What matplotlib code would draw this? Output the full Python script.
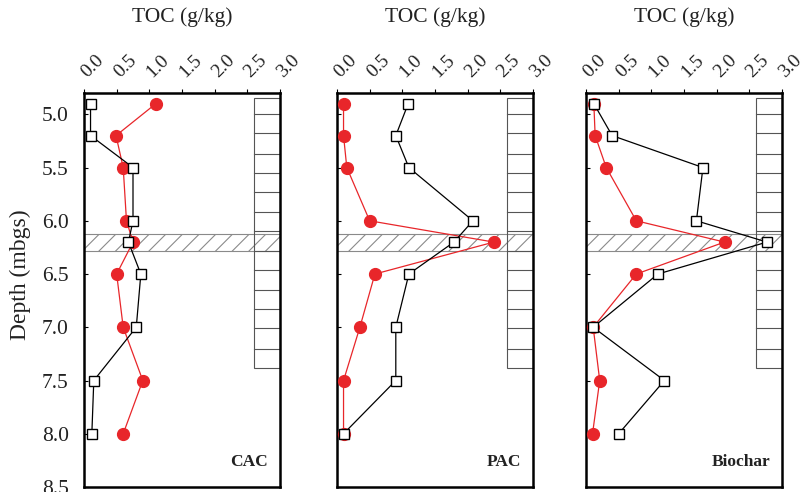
import numpy as np
import matplotlib
matplotlib.use("Agg")
import matplotlib.pyplot as plt
from matplotlib.patches import Rectangle

# depths of the samples (m below ground surface)
depth = [4.9, 5.2, 5.5, 6.0, 6.2, 6.5, 7.0, 7.5, 8.0]

# TOC (g/kg), black squares and red circles in each panel
cac_black = [0.10, 0.10, 0.75, 0.75, 0.68, 0.87, 0.80, 0.15, 0.12]
cac_red = [1.10, 0.49, 0.60, 0.65, 0.75, 0.50, 0.60, 0.90, 0.60]
pac_black = [1.09, 0.90, 1.10, 2.08, 1.79, 1.10, 0.90, 0.90, 0.10]
pac_red = [0.10, 0.10, 0.15, 0.50, 2.40, 0.58, 0.35, 0.10, 0.10]
bio_black = [0.12, 0.40, 1.79, 1.69, 2.77, 1.10, 0.11, 1.20, 0.50]
bio_red = [0.12, 0.14, 0.31, 0.77, 2.12, 0.77, 0.11, 0.21, 0.10]

panels = ["CAC", "PAC", "Biochar"]
xticks = [0.0, 0.5, 1.0, 1.5, 2.0, 2.5, 3.0]
yticks = [5.0, 5.5, 6.0, 6.5, 7.0, 7.5, 8.0, 8.5]

# hatched layer and the sampled intervals on the right
band = (6.12, 6.28)
intervals = [4.85, 5.0, 5.18, 5.37, 5.55, 5.73, 5.92, 6.10, 6.28,
             6.46, 6.65, 6.83, 7.01, 7.20, 7.38]


def main():
    plt.rcParams['font.family'] = 'Liberation Serif'
    plt.rcParams['hatch.color'] = '#a0a0a0'
    plt.rcParams['hatch.linewidth'] = 0.8

    fig = plt.figure(figsize=(8.01, 4.92), dpi=100)
    W, H = 801., 492.
    lefts = [84, 337, 586]
    top, bottom = 93, 487
    data = [(cac_black, cac_red), (pac_black, pac_red), (bio_black, bio_red)]

    for i, left in enumerate(lefts):
        ax = fig.add_axes([left / W, 1 - bottom / H, 196 / W, (bottom - top) / H])
        blk, red = data[i]

        # hatched band
        ax.add_patch(Rectangle((0, band[0]), 3, band[1] - band[0],
                               facecolor='white', edgecolor='#8a8a8a',
                               hatch='//', lw=0.8, zorder=1))
        # interval column
        ax.add_patch(Rectangle((2.6, intervals[0]), 0.4,
                               intervals[-1] - intervals[0],
                               facecolor='none', edgecolor='#555555',
                               lw=0.8, zorder=1.5))
        for d in intervals[1:-1]:
            ax.plot([2.6, 3.0], [d, d], color='#555555', lw=0.8, zorder=1.5)

        ax.plot(red, depth, color='#e8262a', lw=0.9, marker='o',
                markersize=8.5, markerfacecolor='#e8262a',
                markeredgecolor='#e8262a', zorder=3)
        ax.plot(blk, depth, color='black', lw=0.9, marker='s',
                markersize=7.5, markerfacecolor='white',
                markeredgecolor='black', markeredgewidth=1.0, zorder=4)

        ax.set_xlim(0, 3)
        ax.set_ylim(8.5, 4.8)
        ax.xaxis.tick_top()
        ax.set_xticks(xticks)
        ax.set_xticklabels(['%.1f' % v for v in xticks], rotation=45,
                           rotation_mode='anchor', ha='left', va='center',
                           fontsize=14, color='#222222')
        ax.tick_params(axis='x', direction='out', length=3, pad=10)
        ax.set_yticks(yticks)
        if i == 0:
            ax.set_yticklabels(['%.1f' % v for v in yticks], fontsize=15.5,
                               color='#222222')
        else:
            ax.set_yticklabels([])
        ax.tick_params(axis='y', direction='in', length=3, pad=11)
        for s in ax.spines.values():
            s.set_linewidth(1.8)

        ax.text(0.5, 1 + (top - 17) / (bottom - top), 'TOC (g/kg)',
                transform=ax.transAxes, ha='center', va='center',
                fontsize=15.5, color='#222222')
        ax.text(0.94, 0.063, panels[i], transform=ax.transAxes,
                ha='right', va='center', fontsize=12.5, fontweight='bold',
                color='#222222')

    fig.text(20 / W, 1 - 275 / H, 'Depth (mbgs)', rotation=90,
             ha='center', va='center', fontsize=17, color='#222222')

    fig.savefig('out.png', dpi=100)


if __name__ == '__main__':
    main()
